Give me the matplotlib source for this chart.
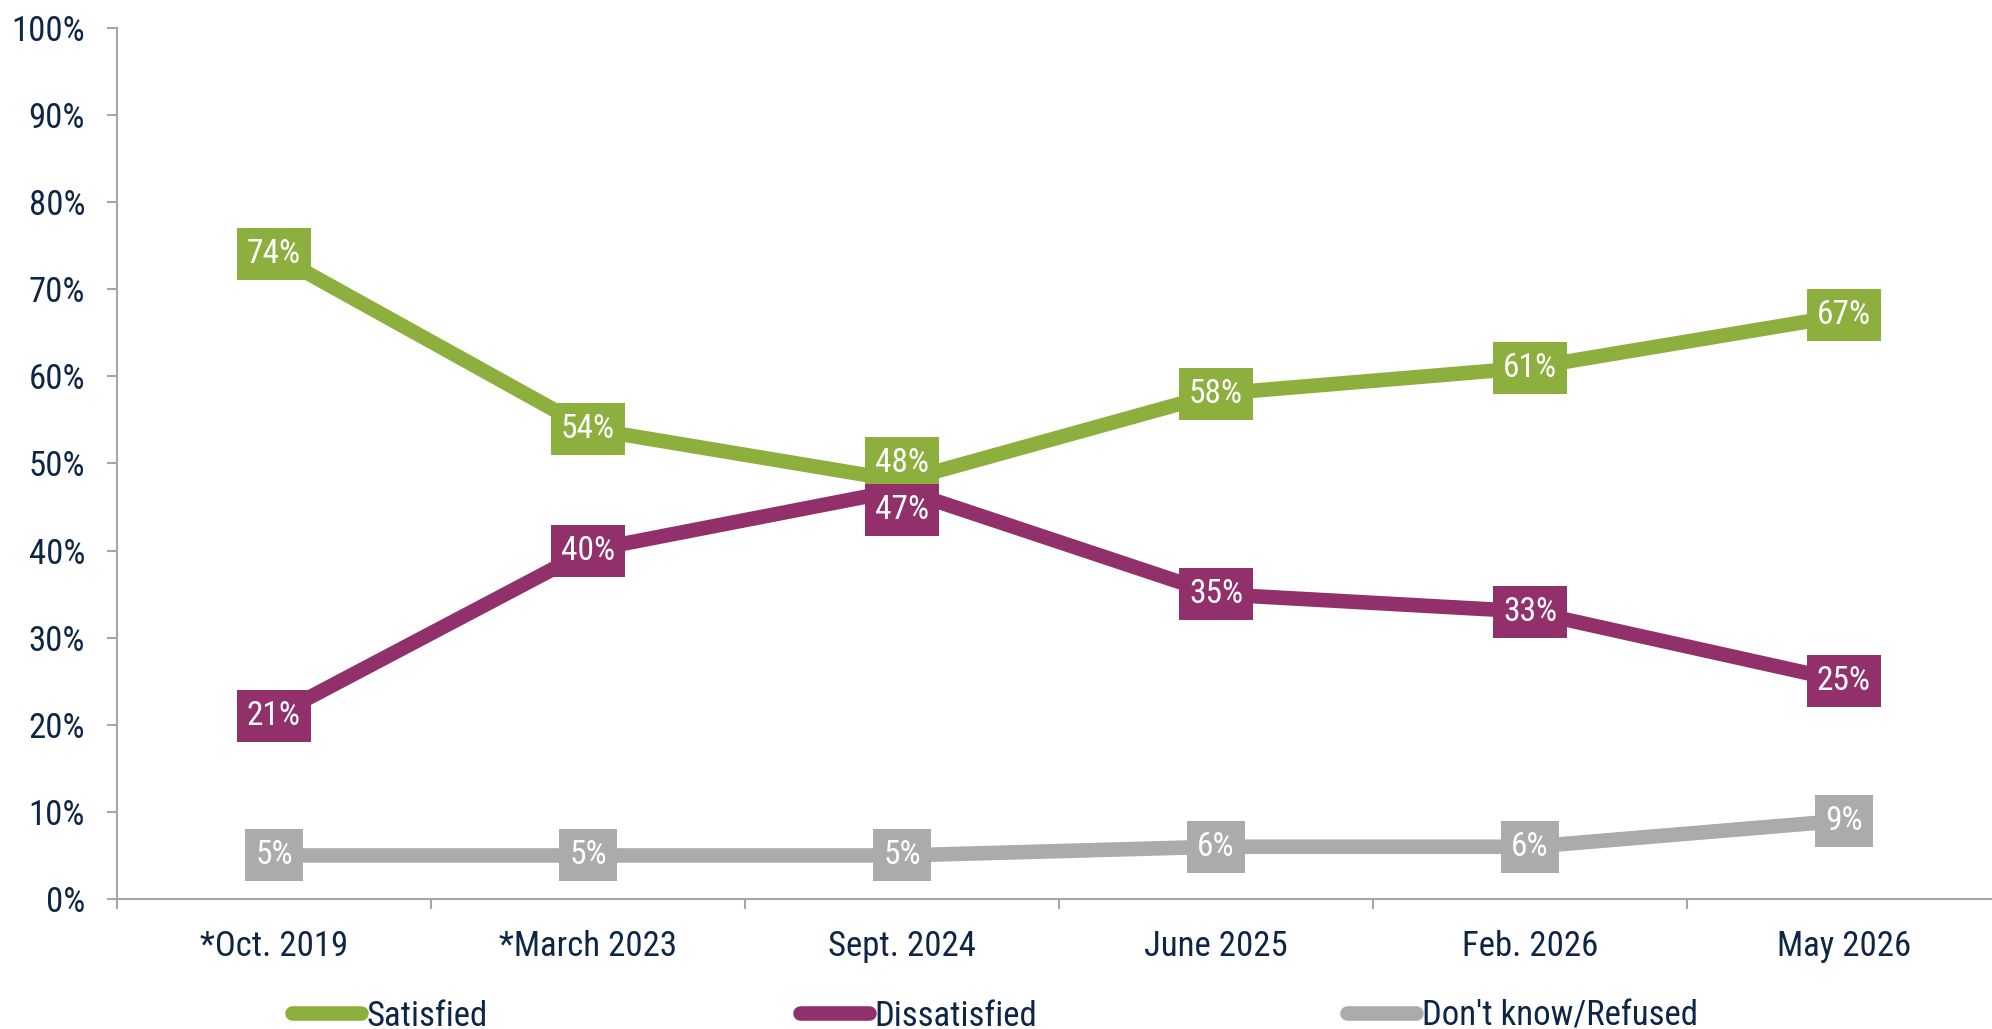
import numpy as np
import matplotlib.pyplot as plt
from matplotlib.lines import Line2D

plt.rcParams['font.family'] = ['Roboto Condensed', 'Liberation Sans Narrow',
                               'DejaVu Sans Condensed', 'Roboto', 'DejaVu Sans']

periods = ['*Oct. 2019', '*March 2023', 'Sept. 2024', 'June 2025', 'Feb. 2026', 'May 2026']
satisfied = [74, 54, 48, 58, 61, 67]
dissatisfied = [21, 40, 47, 35, 33, 25]
dont_know = [5, 5, 5, 6, 6, 9]
series_names = ['Satisfied', 'Dissatisfied', "Don't know/Refused"]

green = '#8DAF3E'
purple = '#92306C'
gray = '#ABABAB'
navy = '#0E2646'
spine_col = '#A6A6A6'

fig = plt.figure(figsize=(19.92, 10.29), dpi=100)
ax = fig.add_axes([117 / 1992, 130 / 1029, 1884 / 1992, 871 / 1029])

x = np.arange(len(periods))
series = [(satisfied, green), (dissatisfied, purple), (dont_know, gray)]
# vertical nudges (points) for the crowded Sept. 2024 labels
nudge = {(0, 2): 13, (1, 2): -15}

for si, (vals, col) in enumerate(series):
    ax.plot(x, vals, color=col, lw=10.5, solid_capstyle='butt', zorder=2)
    for i, v in enumerate(vals):
        ax.annotate(f'{v}%', (x[i], v), xytext=(0, nudge.get((si, i), 0)),
                    textcoords='offset points', ha='center', va='center',
                    fontsize=24, color='white', zorder=3,
                    bbox=dict(boxstyle='square,pad=0.3', fc=col, ec='none'))

ax.set_xlim(-0.5, len(periods) - 0.5)
ax.set_ylim(0, 100)
ax.set_yticks(np.arange(0, 101, 10))
ax.set_yticklabels([f'{t}%' for t in range(0, 101, 10)])
ax.set_xticks(x)
ax.set_xticklabels(periods)
ax.set_xticks(np.arange(-0.5, len(periods), 1.0), minor=True)

for s in ['top', 'right']:
    ax.spines[s].set_visible(False)
for s in ['left', 'bottom']:
    ax.spines[s].set_color(spine_col)
    ax.spines[s].set_linewidth(1.5)

ax.tick_params(axis='y', length=7, width=1.5, color=spine_col, pad=16,
               labelsize=25, labelcolor=navy)
ax.tick_params(axis='x', which='major', length=0, pad=22, labelsize=25, labelcolor=navy)
ax.tick_params(axis='x', which='minor', length=7, width=1.5, color=spine_col)

# one legend per entry so each sits where the reference puts it
legend_x = [292, 800, 1347]
for (_, c), name, lx in zip(series, series_names, legend_x):
    h = Line2D([], [], color=c, lw=10.5, solid_capstyle='round')
    fig.legend([h], [name], loc='center left', bbox_to_anchor=(lx / 1992, 13 / 1029),
               frameon=False, fontsize=25, labelcolor=navy, handlelength=2.0,
               handletextpad=0.15, borderpad=0, borderaxespad=0)

fig.savefig('out.png', dpi=100)
